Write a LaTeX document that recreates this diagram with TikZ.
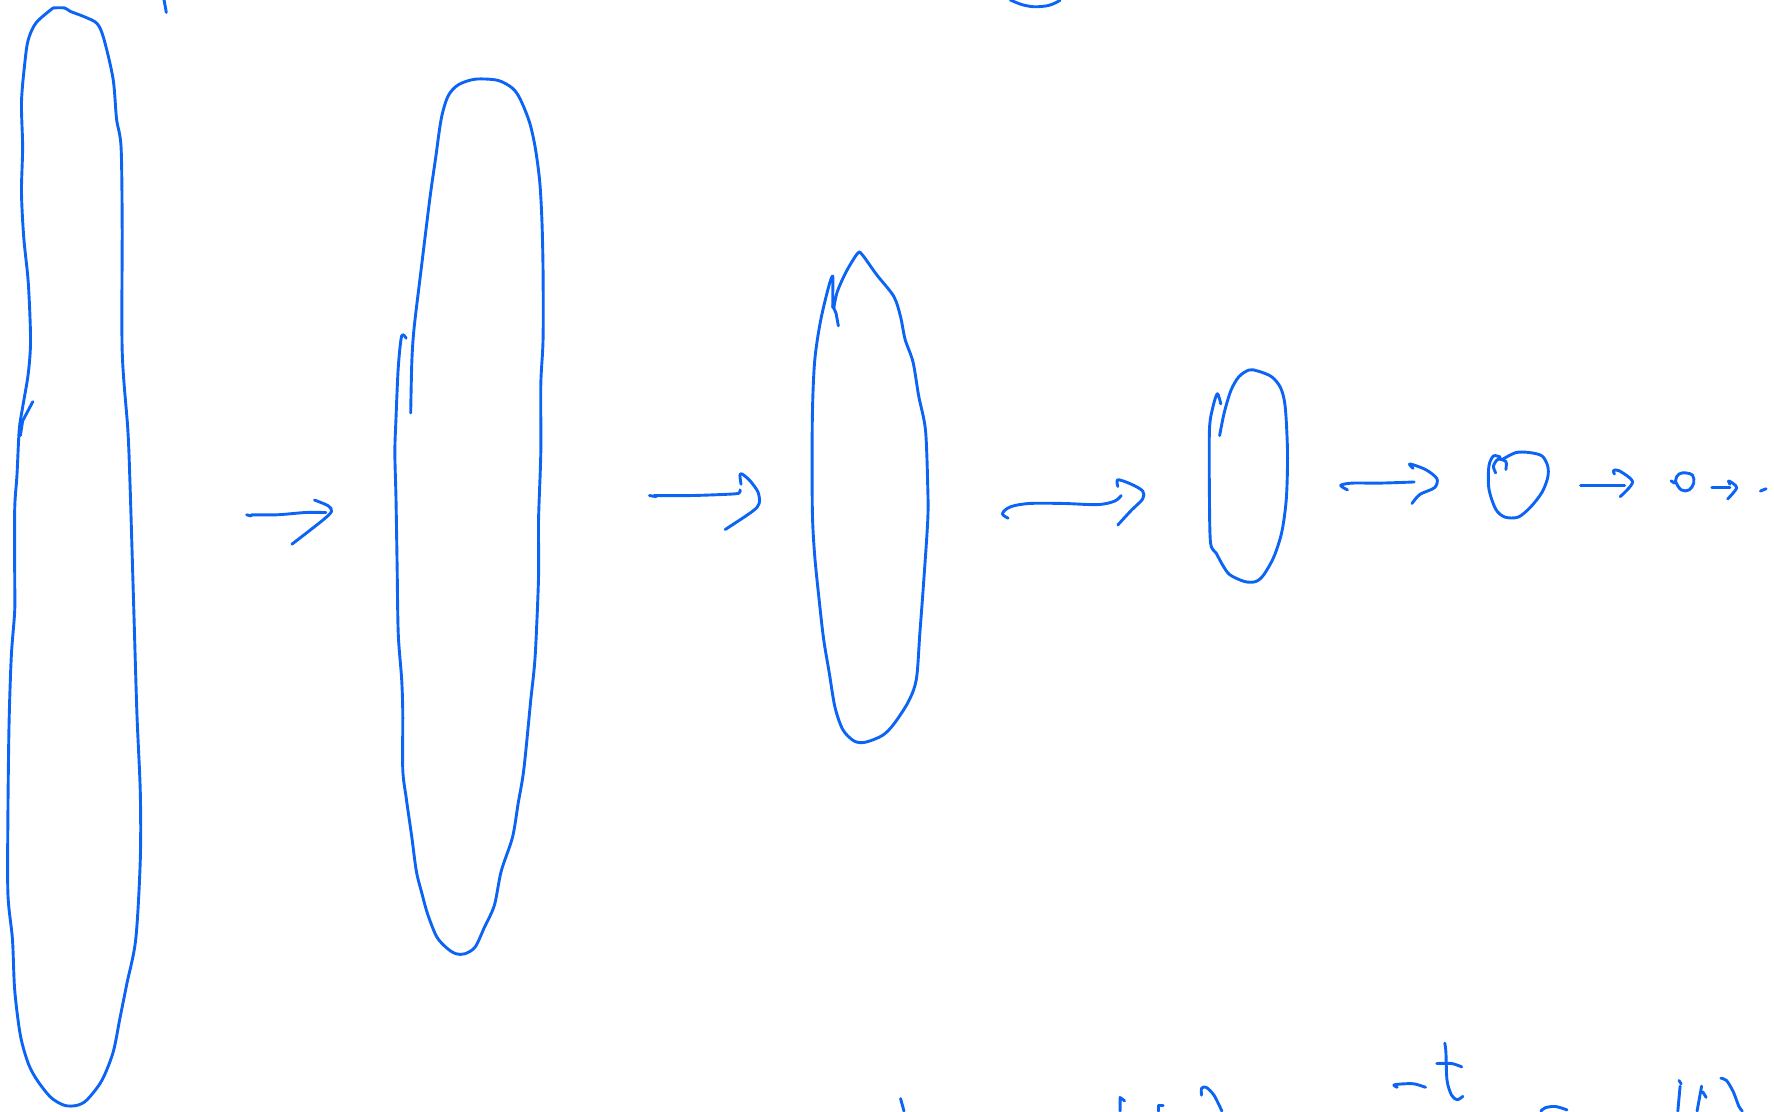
\documentclass[tikz,border=0pt]{standalone}
\definecolor{ink}{RGB}{12,100,245}
\begin{document}
\begin{tikzpicture}[x=0.5657pt,y=-0.5657pt,
  pen/.style={draw=ink,line width=1.45pt,line cap=round,line join=round},
  sm/.style={pen,smooth,tension=0.55}]
\useasboundingbox (0,0) rectangle (1568,982);
% ---------- shape 1 (tall left loop)
\draw[pen] plot[smooth,tension=0.5] coordinates {(47,7)(57,7)(62,10)(75,15)(86,21)(92,35)(100,70)(103,105)(107,130)(108,200)(108,310)(113,380)(115,430)(118,530)(121,630)(124,700)(124,760)(120,830)(112,870)(106,900)(100,930)(90,955)(77,972)(68,977)(57,977)(45,970)(33,955)(25,940)(18,915)(13,875)(11,830)(7,790)(7,720)(8,640)(10,580)(13,540)(13,510)(13,450)(15,420)(17,380)(20,360)(25,330)(27,300)(25,250)(21,210)(19,170)(20,130)(19,90)(22,55)(25,35)(32,20)(47,7)};
\draw[pen] (18,385) -- (20,372) -- (29,355);
\draw[pen] (145,0) -- (147,11);
% ---------- top fragment
\draw[pen] plot[smooth] coordinates {(893,0)(903,4)(914,6)(926,5)(934,2)(937,0)};
% ---------- shape 2
\draw[pen] plot[smooth,tension=0.5] coordinates {(359,299)(355,297)(352,325)(350,370)(349,400)(350,440)(351,500)(352,560)(355,600)(356,630)(356,680)(359,705)(364,740)(368,770)(373,790)(378,808)(386,828)(395,838)(403,843)(411,843)(420,837)(428,820)(437,800)(443,770)(453,740)(458,710)(463,680)(469,620)(473,580)(476,510)(476,460)(478,400)(478,340)(480,300)(480,240)(479,195)(477,160)(473,130)(468,108)(460,88)(453,78)(440,71)(420,70)(405,75)(396,85)(390,105)(385,140)(380,175)(372,240)(366,290)(364,320)(363,365)};
% ---------- shape 3
\draw[pen] plot[smooth,tension=0.5] coordinates {(737,272)(740,258)(748,240)(758,224)(762,225)(775,243)(790,262)(796,280)(800,300)(807,320)(812,350)(818,380)(820,430)(820,460)(816,520)(813,560)(810,600)(803,620)(790,640)(780,650)(765,656)(755,655)(745,645)(738,625)(733,595)(728,565)(724,530)(720,490)(718,450)(718,370)(720,320)(725,285)(732,255)(736,244)(736,262)(736,272)};
\draw[pen] (736,270) -- (739,277) -- (741,288);
% ---------- shape 4
\draw[pen] plot[smooth,tension=0.5] coordinates {(1078,385)(1082,365)(1088,345)(1095,333)(1104,327)(1112,328)(1124,333)(1132,343)(1136,360)(1138,400)(1137,440)(1133,470)(1126,492)(1117,508)(1110,514)(1100,514)(1087,508)(1081,500)(1075,489)(1070,480)(1069,440)(1069,380)(1072,360)(1076,348)(1079,357)};
% ---------- shape 5
\draw[pen] plot[smooth,tension=0.5] coordinates {(1322,418)(1320,412)(1324,406)(1331,408)(1331,415)};
\draw[pen] plot[smooth,tension=0.5] coordinates {(1326,404)(1320,403)(1316,412)(1316,432)(1322,450)(1330,457)(1342,457)(1353,448)(1363,435)(1368,422)(1368,412)(1363,403)(1352,400)(1340,400)(1328,406)};
% ---------- shape 6
\draw[pen] plot[smooth cycle,tension=0.6] coordinates {(1481,425)(1484,419)(1490,418)(1496,420)(1497,427)(1493,433)(1486,433)};
\draw[pen] (1477,425) -- (1480,427);
% ---------- shape 7 (dot)
\draw[pen] (1556,434) -- (1561,432);
% ---------- arrows
% A1
\draw[pen] (218,455) -- (222,456);
\draw[pen] plot[smooth] coordinates {(222,455)(245,455)(270,453)(288,453)};
\draw[pen] plot[smooth,tension=0.5] coordinates {(278,442)(290,447)(293,452)(285,460)(258,481)};
% A2
\draw[pen] (574,438) -- (580,439);
\draw[pen] plot[smooth] coordinates {(578,438)(610,438)(640,437)(653,436)(654,433)};
\draw[pen] plot[smooth,tension=0.5] coordinates {(655,428)(654,420)(656,419)(663,425)(670,435)(671,445)(665,452)(641,468)};
% A3
\draw[pen] plot[smooth,tension=0.55] coordinates {(891,458)(886,454)(893,448)(910,445)(940,445)(970,446)(985,443)(991,438)};
\draw[pen] plot[smooth,tension=0.5] coordinates {(988,430)(988,424)(1000,428)(1010,434)(1010,441)(1000,451)(988,464)};
% A4
\draw[pen] plot[smooth] coordinates {(1191,433)(1185,429)(1195,427)(1220,427)(1250,426)};
\draw[pen] plot[smooth,tension=0.5] coordinates {(1249,414)(1246,410)(1260,415)(1270,423)(1268,431)(1255,437)(1248,445)};
% A5
\draw[pen] (1397,429) -- (1436,429);
\draw[pen] plot[smooth,tension=0.5] coordinates {(1427,419)(1426,416)(1431,416)(1443,426)(1432,439)};
% A6
\draw[pen] (1513,431) -- (1529,431);
\draw[pen] plot[smooth,tension=0.5] coordinates {(1529,428)(1528,425)(1535,431)(1527,441)};
% ---------- bottom fragments
\draw[pen] (796,971) -- (799,982);
\draw[pen] (994,973) -- (990,970) -- (990,982);
\draw[pen] (1028,977) -- (1024,977) -- (1024,982);
\draw[pen] plot[smooth] coordinates {(1062,968)(1062,962)(1066,961)(1073,968)(1080,982)};
\draw[pen] plot[smooth] coordinates {(1235,961)(1232,959)(1240,958)(1250,958)(1260,961)};
\draw[pen] plot[smooth] coordinates {(1277,922)(1278,930)(1279,955)(1283,968)(1288,972)(1293,969)};
\draw[pen] plot[smooth] coordinates {(1270,940)(1283,940)(1292,943)};
\draw[pen] plot[smooth] coordinates {(1362,982)(1366,979)(1375,978)(1385,981)};
\draw[pen] (1484,955) -- (1486,958);
\draw[pen] (1485,960) -- (1483,982);
\draw[pen] (1504,960) -- (1500,982);
\draw[pen] (1505,965) -- (1508,970);
\draw[pen] plot[smooth] coordinates {(1521,953)(1526,955)(1532,965)(1537,978)(1540,982)};
\end{tikzpicture}
\end{document}
